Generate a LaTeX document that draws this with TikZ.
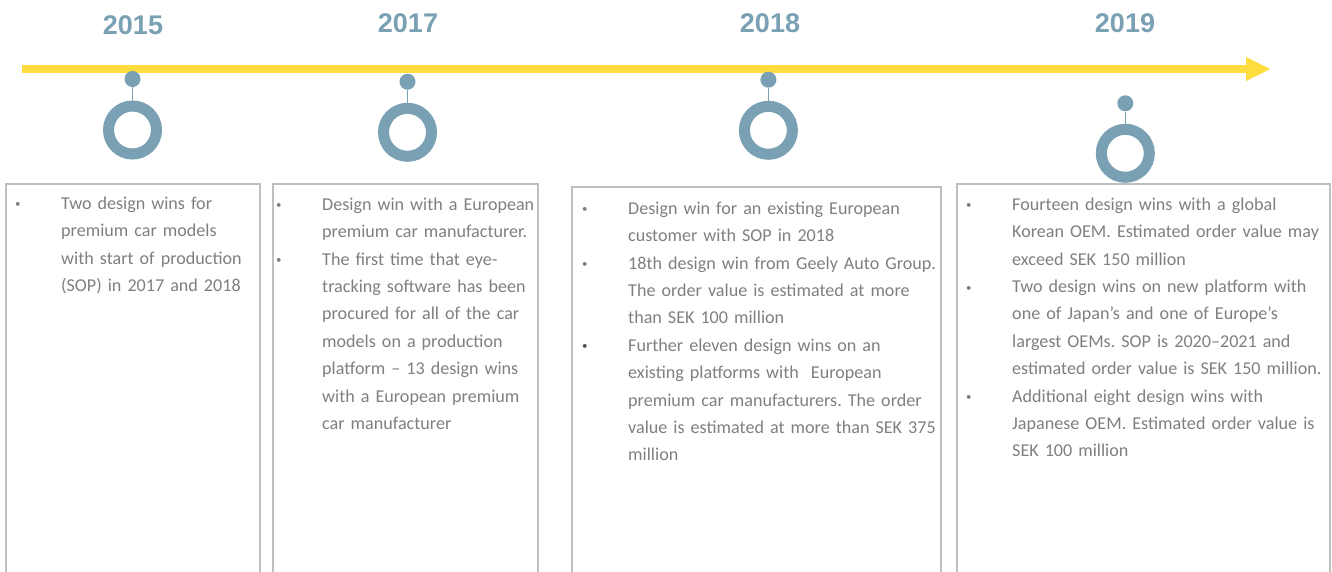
\documentclass[tikz,border=0pt]{standalone}
\usepackage{fontspec}
\setmainfont{Carlito}
\newfontfamily\yearfont{Liberation Sans}
\usetikzlibrary{arrows.meta}

\definecolor{tlyellow}{RGB}{255,221,62}
\definecolor{tlblue}{RGB}{122,160,180}
\definecolor{tlgray}{RGB}{127,127,127}
\definecolor{tldark}{RGB}{80,80,80}
\definecolor{tlframe}{RGB}{191,191,191}

\newlength{\bulind}
\setlength{\bulind}{46pt}
\newcommand{\evitem}[2][tlgray]{\noindent\hangindent=\bulind\hangafter=1%
  \makebox[\bulind][l]{\strut\raisebox{1.5pt}{\textcolor{#1}{\fontsize{11}{11}\selectfont\textbullet}}}#2\par}

\begin{document}
\frenchspacing
\begin{tikzpicture}[x=1pt, y=-1pt,
  year/.style={font=\yearfont\bfseries\fontsize{27}{27}\selectfont, text=tlblue},
  dot/.style={circle, fill=tlblue, inner sep=0pt, minimum size=16pt},
  ring/.style={circle, draw=tlblue, line width=11pt, inner sep=0pt, minimum size=48pt},
  stem/.style={draw=tlblue, line width=1.5pt},
  evbox/.style={draw=tlframe, line width=1.6pt, anchor=north west, outer sep=0pt, minimum height=420pt},
  evtext/.style={anchor=north west, inner sep=0pt, text width=380pt, align=left, text=tlgray, font=\fontsize{18.1}{27.4}\selectfont}]

\useasboundingbox (0,0) rectangle (1332,571);
\clip (0,0) rectangle (1332,571);

\coordinate (tl0) at (22,69);
\coordinate (tl1) at (1270,69);
\draw[tlyellow, line width=8pt, -{Triangle[length=24pt, width=24pt, line width=0.1pt]}] (tl0) -- (tl1);

\node[year] (y15) at (133,25) {2015};
\node[year] (y17) at (408,23.5) {2017};
\node[year] (y18) at (770,23) {2018};
\node[year] (y19) at (1125,23.3) {2019};

\node[dot] (d15) at (132.5,79) {};
\node[ring] (r15) at (132.5,130) {};
\draw[stem] (d15) -- (r15);

\node[dot] (d17) at (407.5,81.7) {};
\node[ring] (r17) at (407.5,132.3) {};
\draw[stem] (d17) -- (r17);

\node[dot] (d18) at (768.4,79.7) {};
\node[ring] (r18) at (768.4,130.3) {};
\draw[stem] (d18) -- (r18);

\node[dot] (d19) at (1125.3,103.3) {};
\node[ring] (r19) at (1125.3,153.3) {};
\draw[stem] (d19) -- (r19);

\node[evbox, minimum width=254pt] (b15) at (6,184) {};
\node[evbox, minimum width=265pt] (b17) at (273,184) {};
\node[evbox, minimum width=369pt] (b18) at (572,187) {};
\node[evbox, minimum width=373pt] (b19) at (957,184) {};

\node[evtext] (t15) at (15,190) {%
\evitem{Two design wins for\newline premium car models\newline with start of production\newline (SOP) in 2017 and 2018}};

\node[evtext] (t17) at (276,191) {%
\evitem{Design win with a European\newline premium car manufacturer.}
\evitem{The first time that eye-\newline tracking software has been\newline procured for all of the car\newline models on a production\newline platform -- 13 design wins\newline with a European premium\newline car manufacturer}};

\node[evtext] (t18) at (582,195) {%
\evitem{Design win for an existing European\newline customer with SOP in 2018}
\evitem{18th design win from Geely Auto Group.\newline The order value is estimated at more\newline than SEK 100 million}
\evitem[tldark]{Further eleven design wins on an\newline existing platforms with\ \ European\newline premium car manufacturers. The order\newline value is estimated at more than SEK 375\newline million}};

\node[evtext] (t19) at (966,191) {%
\evitem{Fourteen design wins with a global\newline Korean OEM. Estimated order value may\newline exceed SEK 150 million}
\evitem{Two design wins on new platform with\newline one of Japan's and one of Europe's\newline largest OEMs. SOP is 2020--2021 and\newline estimated order value is SEK 150 million.}
\evitem{Additional eight design wins with\newline Japanese OEM. Estimated order value is\newline SEK 100 million}};

\end{tikzpicture}
\end{document}
